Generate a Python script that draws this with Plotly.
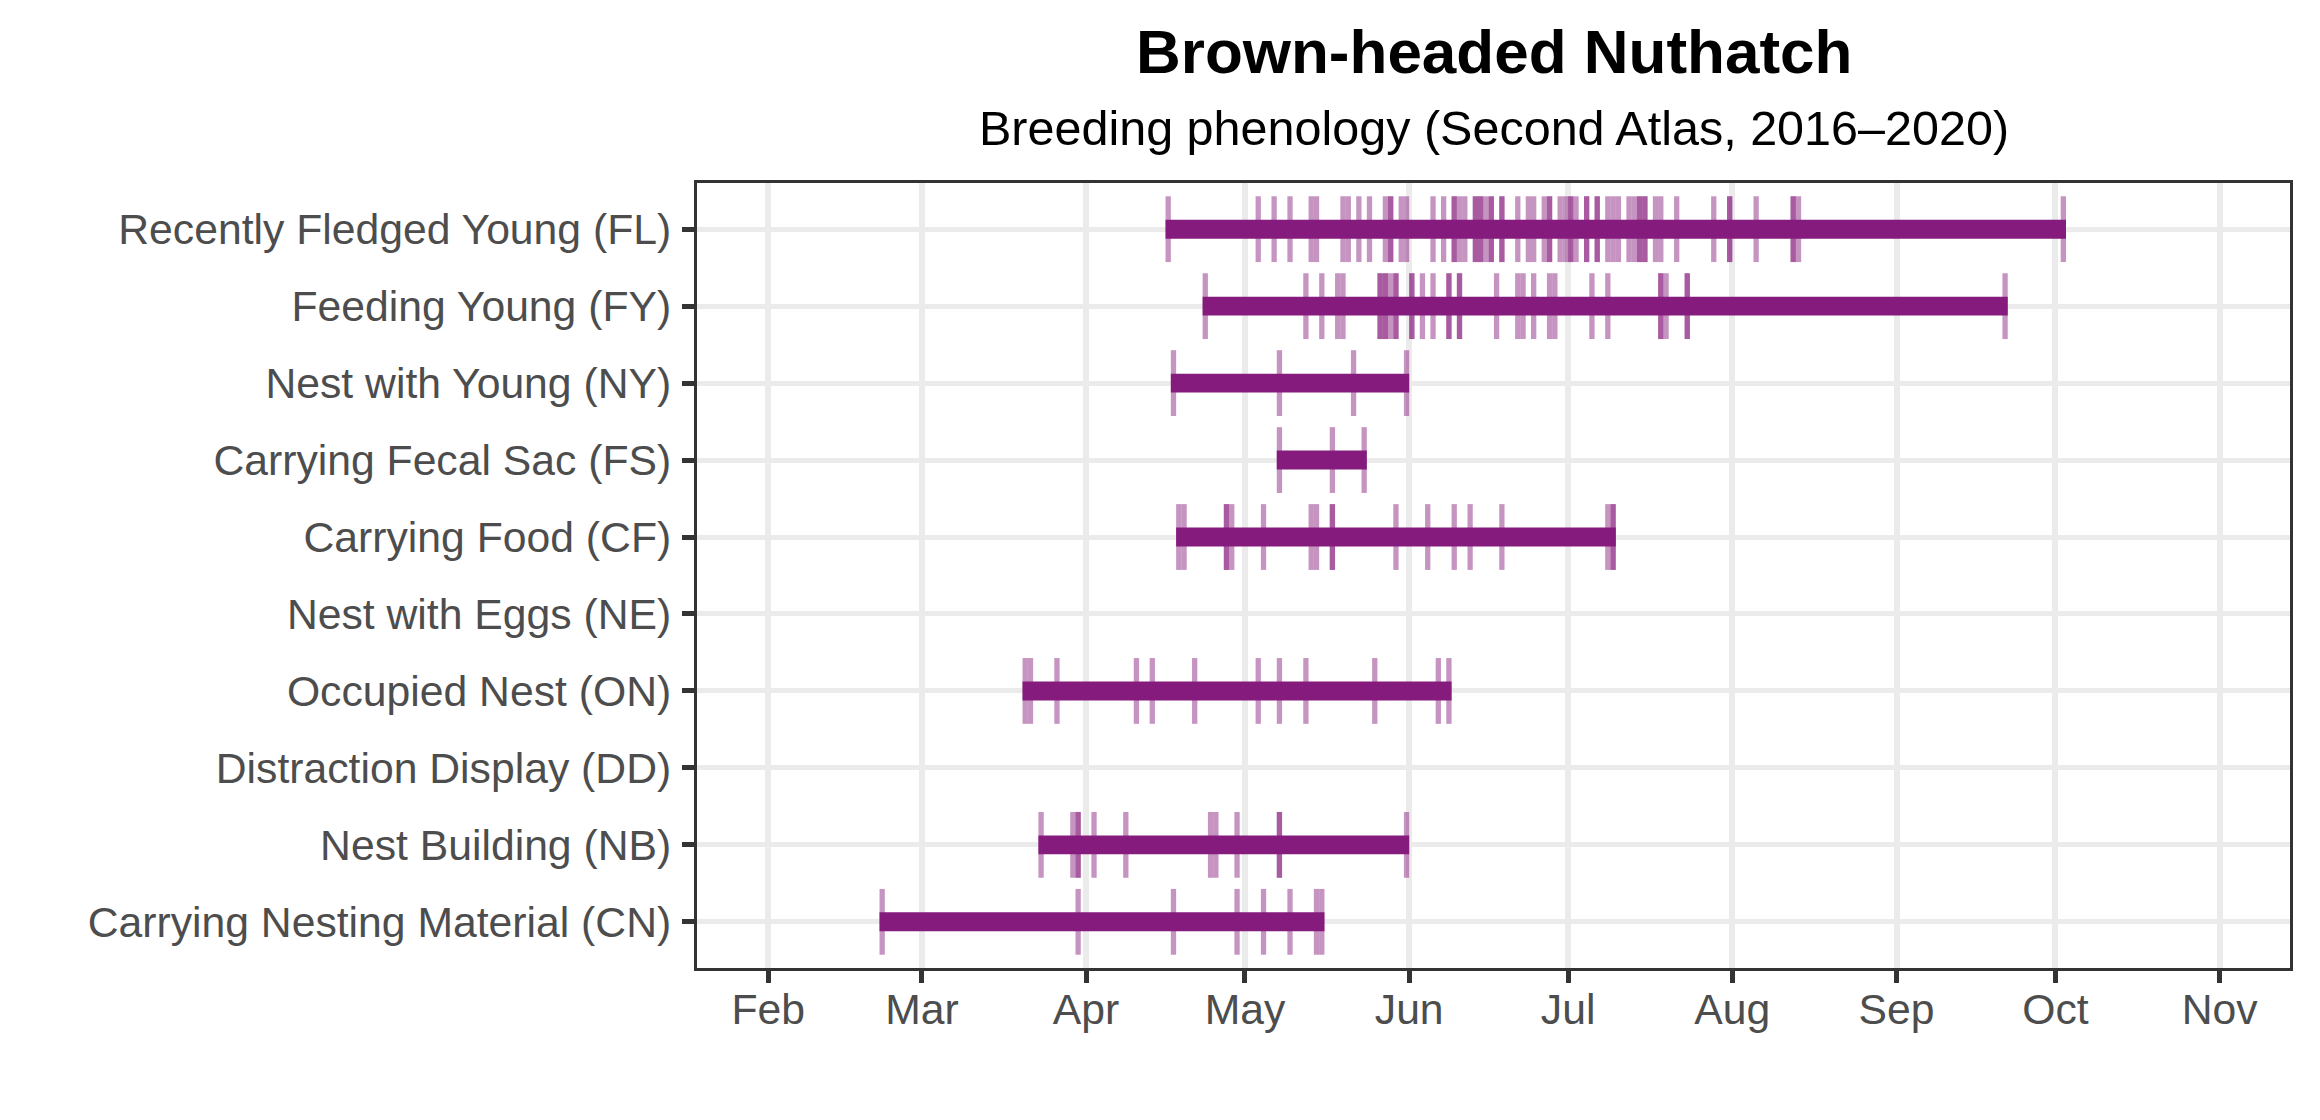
import pandas as pd
import plotly.graph_objects as go

# ---------------- data ----------------
categories = [
    "Carrying Nesting Material (CN)",
    "Nest Building (NB)",
    "Distraction Display (DD)",
    "Occupied Nest (ON)",
    "Nest with Eggs (NE)",
    "Carrying Food (CF)",
    "Carrying Fecal Sac (FS)",
    "Nest with Young (NY)",
    "Feeding Young (FY)",
    "Recently Fledged Young (FL)",
]

fl_dates = ["2020-04-16", "2020-05-03", "2020-05-06", "2020-05-09", "2020-05-13", "2020-05-14",
            "2020-05-19", "2020-05-20", "2020-05-22", "2020-05-24", "2020-05-27", "2020-05-28",
            "2020-05-28", "2020-05-30", "2020-05-31", "2020-06-05", "2020-06-07", "2020-06-09",
            "2020-06-09", "2020-06-10", "2020-06-11", "2020-06-13", "2020-06-13", "2020-06-14",
            "2020-06-14", "2020-06-15", "2020-06-16", "2020-06-16", "2020-06-18", "2020-06-18",
            "2020-06-21", "2020-06-23", "2020-06-24", "2020-06-26", "2020-06-27", "2020-06-27",
            "2020-06-29", "2020-06-30", "2020-07-01", "2020-07-01", "2020-07-02", "2020-07-04",
            "2020-07-04", "2020-07-06", "2020-07-06", "2020-07-08", "2020-07-09", "2020-07-10",
            "2020-07-12", "2020-07-13", "2020-07-14", "2020-07-14", "2020-07-15", "2020-07-15",
            "2020-07-17", "2020-07-18", "2020-07-21", "2020-07-28", "2020-07-31", "2020-07-31",
            "2020-08-05", "2020-08-12", "2020-08-12", "2020-08-13", "2020-10-02"]

fy_dates = ["2020-04-23", "2020-05-12", "2020-05-15", "2020-05-18", "2020-05-19", "2020-05-26",
            "2020-05-26", "2020-05-27", "2020-05-27", "2020-05-28", "2020-05-29", "2020-05-29",
            "2020-06-01", "2020-06-01", "2020-06-03", "2020-06-05", "2020-06-08", "2020-06-08",
            "2020-06-10", "2020-06-10", "2020-06-17", "2020-06-21", "2020-06-22", "2020-06-24",
            "2020-06-27", "2020-06-28", "2020-07-05", "2020-07-08", "2020-07-18", "2020-07-18",
            "2020-07-19", "2020-07-23", "2020-07-23", "2020-09-21"]

ny_dates = ["2020-04-17", "2020-05-07", "2020-05-21", "2020-05-31"]

fs_dates = ["2020-05-07", "2020-05-17", "2020-05-23"]

cf_dates = ["2020-04-18", "2020-04-19", "2020-04-27", "2020-04-27", "2020-04-28", "2020-05-04",
            "2020-05-13", "2020-05-14", "2020-05-17", "2020-05-17", "2020-05-29", "2020-06-04",
            "2020-06-09", "2020-06-12", "2020-06-18", "2020-07-08", "2020-07-09", "2020-07-09"]

ne_dates = []

on_dates = ["2020-03-20", "2020-03-21", "2020-03-26", "2020-04-10", "2020-04-13", "2020-04-21",
            "2020-05-03", "2020-05-07", "2020-05-12", "2020-05-25", "2020-06-06", "2020-06-08"]

dd_dates = []

nb_dates = ["2020-03-23", "2020-03-29", "2020-03-30", "2020-03-30", "2020-04-02", "2020-04-08",
            "2020-04-24", "2020-04-25", "2020-04-29", "2020-05-07", "2020-05-07", "2020-05-31"]

cn_dates = ["2020-02-22", "2020-03-30", "2020-04-17", "2020-04-29", "2020-05-04", "2020-05-09",
            "2020-05-14", "2020-05-15"]

month_ticks = ["2020-02-01", "2020-03-01", "2020-04-01", "2020-05-01", "2020-06-01",
               "2020-07-01", "2020-08-01", "2020-09-01", "2020-10-01", "2020-11-01"]
month_labels = ["Feb", "Mar", "Apr", "May", "Jun", "Jul", "Aug", "Sep", "Oct", "Nov"]

title_text = "Brown-headed Nuthatch"
subtitle_text = "Breeding phenology (Second Atlas, 2016\u20132020)"

# ---------------- build ----------------
series = {
    "Recently Fledged Young (FL)": fl_dates,
    "Feeding Young (FY)": fy_dates,
    "Nest with Young (NY)": ny_dates,
    "Carrying Fecal Sac (FS)": fs_dates,
    "Carrying Food (CF)": cf_dates,
    "Nest with Eggs (NE)": ne_dates,
    "Occupied Nest (ON)": on_dates,
    "Distraction Display (DD)": dd_dates,
    "Nest Building (NB)": nb_dates,
    "Carrying Nesting Material (CN)": cn_dates,
}

DAY_MS = 86400000
PURPLE = "#851B7C"
TICK_RGBA = "rgba(133,27,124,0.47)"

tick_y, tick_base = [], []
bar_y, bar_base, bar_len = [], [], []
for cat, dates in series.items():
    if not dates:
        continue
    d = pd.to_datetime(pd.Series(dates))
    tick_y += [cat] * len(d)
    tick_base += list(d.dt.strftime("%Y-%m-%d"))
    start, end = d.min(), d.max()
    bar_y.append(cat)
    bar_base.append(start.strftime("%Y-%m-%d"))
    bar_len.append((end - start).days * DAY_MS + DAY_MS)

fig = go.Figure()
fig.add_trace(go.Bar(
    y=tick_y, base=tick_base, x=[DAY_MS] * len(tick_y), orientation="h",
    width=0.855, marker=dict(color=TICK_RGBA, line=dict(width=0)),
    hoverinfo="skip", showlegend=False,
))
fig.add_trace(go.Bar(
    y=bar_y, base=bar_base, x=bar_len, orientation="h",
    width=0.246, marker=dict(color=PURPLE, line=dict(width=0)),
    hoverinfo="skip", showlegend=False,
))

FONT = "Liberation Sans, Arial, Helvetica, sans-serif"
TICK_SIZE = 42.7

fig.update_layout(
    width=2320, height=1120,
    margin=dict(l=689, r=38, t=175, b=160, pad=0),
    paper_bgcolor="white", plot_bgcolor="white",
    barmode="overlay",
    font=dict(family=FONT, color="#4D4D4D", size=TICK_SIZE),
    showlegend=False,
)
fig.update_xaxes(
    type="date",
    range=["2020-01-18 13:00", "2020-11-14 07:00"],
    tickvals=month_ticks, ticktext=month_labels,
    ticks="outside", ticklen=12, tickwidth=5, tickcolor="#333333",
    tickfont=dict(size=TICK_SIZE, color="#4D4D4D", family=FONT),
    ticklabelstandoff=-10,
    showgrid=True, gridcolor="#EBEBEB", gridwidth=5.5,
    showline=True, linecolor="#333333", linewidth=2.5, mirror=True,
    zeroline=False,
)
fig.update_yaxes(
    type="category",
    categoryorder="array", categoryarray=categories,
    range=[-0.6, len(categories) - 0.4],
    ticks="outside", ticklen=12.5, tickwidth=5, tickcolor="#333333",
    tickfont=dict(size=TICK_SIZE, color="#4D4D4D", family=FONT),
    ticklabelstandoff=2,
    showgrid=True, gridcolor="#EBEBEB", gridwidth=5.3,
    showline=True, linecolor="#333333", linewidth=2.5, mirror=True,
    zeroline=False,
)

fig.add_annotation(
    text="<b>" + title_text + "</b>", xref="paper", yref="paper",
    x=0.5, y=1.167, xanchor="center", yanchor="middle", showarrow=False,
    font=dict(family=FONT, size=62, color="black"),
)
fig.add_annotation(
    text=subtitle_text, xref="paper", yref="paper",
    x=0.5, y=1.070, xanchor="center", yanchor="middle", showarrow=False,
    font=dict(family=FONT, size=48.5, color="black"),
)

fig.write_html("out.html")
